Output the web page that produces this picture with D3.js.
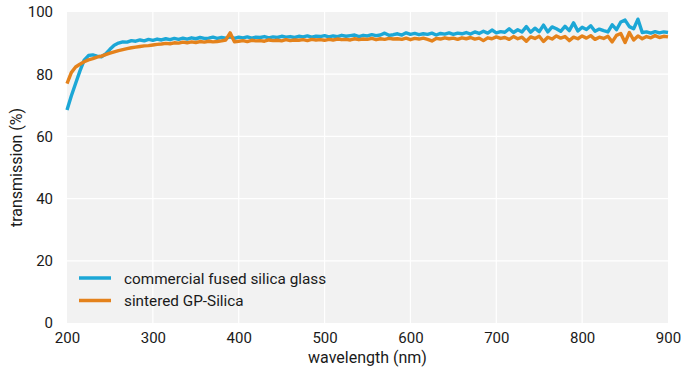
<!DOCTYPE html>
<html>
<head>
<meta charset="utf-8">
<script src="https://cdn.jsdelivr.net/npm/d3@7"></script>
<style>
  body { margin: 0; background: #fff; }
  text { font-family: Roboto, "Noto Sans", sans-serif; fill: #1a1a1a; }
</style>
</head>
<body>
<svg id="chart" width="688" height="374"></svg>
<script>
// wavelength grid, nm (5 nm steps)
const wavelengths = d3.range(200, 901, 5);

const fusedSilica = [
  68.5, 73, 77, 81, 84.5, 86, 86.2, 85.8, 85.6, 86.5,
  88, 89.3, 90, 90.4, 90.3, 90.8, 90.6, 91, 90.7, 91.2,
  90.9, 91.3, 91, 91.4, 91.1, 91.5, 91.2, 91.6, 91.3, 91.7,
  91.4, 91.8, 91.5, 91.6, 91.9, 91.5, 91.8, 91.6, 92, 91.5,
  91.9, 91.7, 92, 91.6, 91.9, 91.8, 92.1, 91.7, 92, 91.8,
  92.2, 91.9, 92.1, 91.8, 92.2, 92, 92.3, 91.9, 92.2, 92.1,
  92.4, 92, 92.3, 92.1, 92.5, 92.2, 92.4, 92.6, 92.1, 92.5,
  92.3, 92.7, 92.4, 92.6, 93.2, 92.5, 92.7, 93, 92.6, 93.3,
  92.8, 93.1, 92.7, 93, 92.8, 93.2, 92.6, 93.1, 92.9, 93.3,
  92.8, 93.2, 93, 93.4, 92.9, 93.6, 93.1, 93.8, 93.2, 94.2,
  93.3, 93.7, 93.5, 94.6, 93.4, 94.3, 93.6, 95.3, 93.5, 94.8,
  93.7, 95.8, 93.6, 95.2, 94.6, 93.8, 95.4, 94, 96.5, 93.9,
  95.1, 94.4, 95.6, 93.8, 94.5, 94, 93.6, 95.9, 94.3, 96.8,
  97.4, 95.3, 94.6, 97.7, 93.4, 93.6, 93.2, 93.7, 93.3, 93.6,
  93.4
];

const gpSilica = [
  77, 80.5, 82.3, 83.2, 84, 84.6, 85, 85.5, 85.8, 86.3,
  86.8, 87.2, 87.6, 87.9, 88.2, 88.5, 88.7, 88.9, 89.1, 89.2,
  89.4, 89.6, 89.7, 89.9, 89.8, 90.1, 90, 90.3, 90.1, 90.4,
  90.2, 90.5, 90.3, 90.6, 90.4, 90.5, 90.7, 91, 93.3, 90.4,
  90.6, 90.8, 90.5, 90.9, 90.7, 90.8, 90.6, 91, 90.8, 90.9,
  90.7, 91.1, 90.8, 91, 90.9, 91.1, 90.8, 91.2, 91, 91.1,
  90.9, 91.2, 91, 91.3, 91.1, 91.2, 91, 91.4, 91.1, 91.3,
  91.2, 91.5, 91.1, 91.4, 91.2, 91.5, 91.3, 91.4, 91.2, 91.6,
  91.1, 91.5, 91.3, 91.6, 91.2, 90.7, 91.5, 91.3, 91.7, 91.4,
  91.6, 91.2, 91.7, 91.4, 91.8, 91.3, 91.6, 90.8, 91.7, 91.4,
  92, 91.5, 91.8, 91.2, 92.1, 91.4, 91.9, 90.6, 92, 91.5,
  92.2, 90.5, 91.9, 91.3, 92.3, 91.6, 92.1, 90.8, 91.9, 91.4,
  92.3, 91.6, 92.4, 91.2, 91.9, 91.5, 92.2, 90.4, 92.5, 93.1,
  90.2, 93.4, 91, 92.3, 91.4, 92.1, 91.7, 92.4, 91.8, 92.2,
  92
];

const seriesNames = ["commercial fused silica glass", "sintered GP-Silica"];
const seriesColors = ["#1ca7d6", "#e4821c"];
const xTicks = [200, 300, 400, 500, 600, 700, 800, 900];
const yTicks = [0, 20, 40, 60, 80, 100];

const width = 688, height = 374;
const margin = { top: 12, right: 20, bottom: 51, left: 67 };

const svg = d3.select("#chart");
const x = d3.scaleLinear().domain([200, 900]).range([margin.left, width - margin.right]);
const y = d3.scaleLinear().domain([0, 100]).range([height - margin.bottom, margin.top]);

// panel
svg.append("rect")
  .attr("x", x(200)).attr("y", y(100))
  .attr("width", x(900) - x(200)).attr("height", y(0) - y(100))
  .attr("fill", "#f2f2f2");

// grid
svg.append("g")
  .selectAll("line")
  .data(xTicks.slice(1, -1))
  .join("line")
  .attr("x1", (d) => x(d)).attr("x2", (d) => x(d))
  .attr("y1", y(0)).attr("y2", y(100))
  .attr("stroke", "#fff").attr("stroke-width", 1.2);
svg.append("g")
  .selectAll("line")
  .data(yTicks.slice(1, -1))
  .join("line")
  .attr("x1", x(200)).attr("x2", x(900))
  .attr("y1", (d) => y(d)).attr("y2", (d) => y(d))
  .attr("stroke", "#fff").attr("stroke-width", 1.2);

// axes (labels only)
const xAxis = svg.append("g")
  .attr("transform", `translate(0,${y(0)})`)
  .call(d3.axisBottom(x).tickValues(xTicks).tickSize(0).tickPadding(9));
xAxis.select(".domain").remove();
xAxis.selectAll("text").attr("font-size", 15).style("font-family", "Roboto").attr("fill", "#1a1a1a");

const yAxis = svg.append("g")
  .attr("transform", `translate(${x(200)},0)`)
  .call(d3.axisLeft(y).tickValues(yTicks).tickSize(0).tickPadding(14));
yAxis.select(".domain").remove();
yAxis.selectAll("text").attr("font-size", 15).style("font-family", "Roboto").attr("fill", "#1a1a1a");

svg.append("text")
  .attr("x", (x(200) + x(900)) / 2).attr("y", 363)
  .attr("text-anchor", "middle").attr("font-size", 16)
  .text("wavelength (nm)");
svg.append("text")
  .attr("transform", `translate(22,${(y(0) + y(100)) / 2}) rotate(-90)`)
  .attr("text-anchor", "middle").attr("font-size", 16)
  .text("transmission (%)");

// lines
const line = d3.line()
  .x((d) => x(d[0]))
  .y((d) => y(d[1]));
[fusedSilica, gpSilica].forEach((vals, i) => {
  svg.append("path")
    .datum(wavelengths.map((w, j) => [w, vals[j]]))
    .attr("d", line)
    .attr("fill", "none")
    .attr("stroke", seriesColors[i])
    .attr("stroke-width", 3.4)
    .attr("stroke-linejoin", "round");
});

// legend
const legend = svg.append("g").attr("transform", "translate(79,267)");
const legendG = legend.selectAll("g")
  .data(seriesNames)
  .join("g")
  .attr("transform", (_, i) => `translate(0,${i * 22.5})`);
legendG.append("path")
  .attr("d", "M0,11h32")
  .attr("stroke", (_, i) => seriesColors[i])
  .attr("stroke-width", 3.5);
legendG.append("text")
  .attr("x", 45).attr("y", 16.5)
  .attr("font-size", 15.3)
  .text((d) => d);
</script>
</body>
</html>
